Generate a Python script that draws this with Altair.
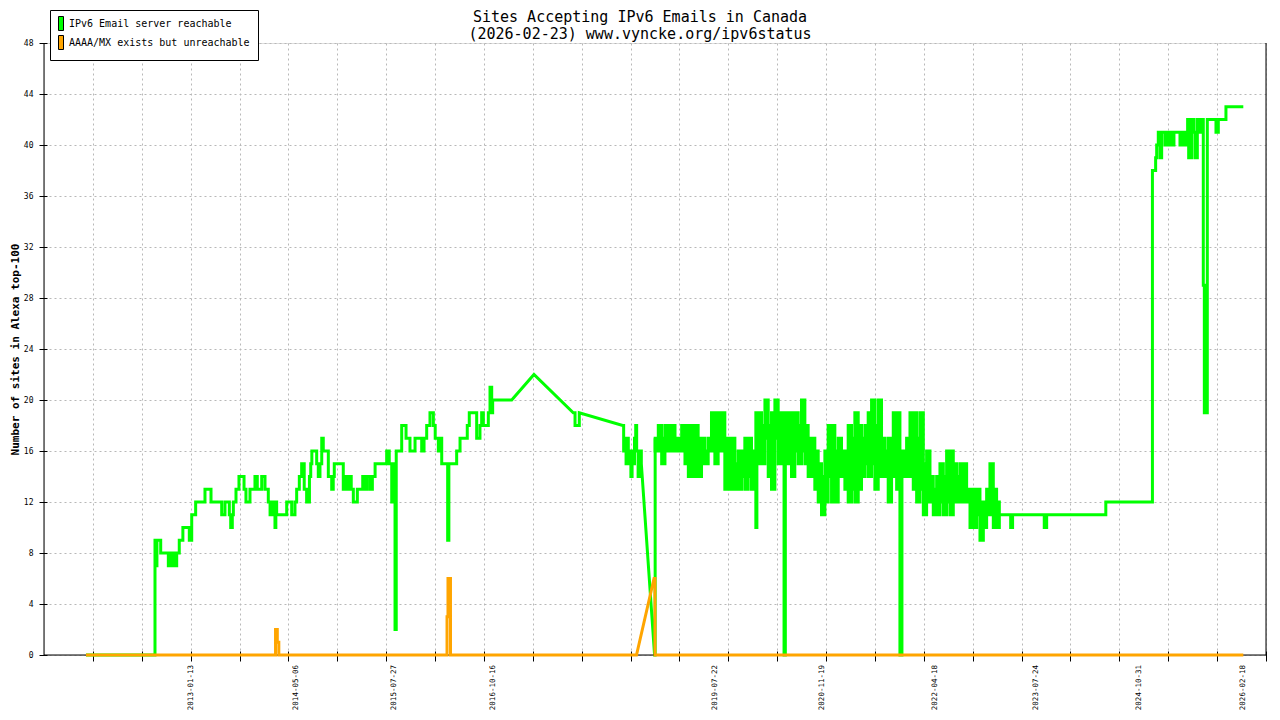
import altair as alt
import pandas as pd

MONO = "DejaVu Sans Mono"

TITLE = ["Sites Accepting IPv6 Emails in Canada", "(2026-02-23) www.vyncke.org/ipv6status"]
Y_TITLE = "Number of sites in Alexa top-100"
SERIES = ["IPv6 Email server reachable", "AAAA/MX exists but unreachable"]
GREEN, ORANGE = "#00ff00", "#ffa500"

# x positions are decimal years
X_DOMAIN = [2011.2068, 2026.4134]
X_LABELS = ["2013-01-13", "2014-05-06", "2015-07-27", "2016-10-16", "2019-07-22",
            "2020-11-19", "2022-04-18", "2023-07-24", "2024-10-31", "2026-02-18"]

# green series, part 1: vertices (year, value); a value holds until the next vertex
# except after the years listed in G_SLOPED (straight segment to the next vertex)
G1_YEAR = [
    2011.729, 2012.588, 2012.603, 2012.612, 2012.659, 2012.754, 2012.783, 2012.808, 2012.840, 2012.848,
    2012.858, 2012.890, 2012.935, 2013.015, 2013.045, 2013.094, 2013.210, 2013.285, 2013.418, 2013.459,
    2013.513, 2013.530, 2013.550, 2013.563, 2013.596, 2013.633, 2013.696, 2013.720, 2013.770, 2013.832,
    2013.861, 2013.916, 2013.957, 2013.998, 2014.020, 2014.040, 2014.060, 2014.081, 2014.092, 2014.102,
    2014.227, 2014.289, 2014.330, 2014.351, 2014.384, 2014.413, 2014.425, 2014.434, 2014.445, 2014.475,
    2014.510, 2014.526, 2014.540, 2014.600, 2014.620, 2014.641, 2014.663, 2014.682, 2014.745, 2014.787,
    2014.806, 2014.819, 2014.931, 2014.960, 2014.980, 2015.006, 2015.030, 2015.056, 2015.106, 2015.173,
    2015.200, 2015.222, 2015.260, 2015.293, 2015.327, 2015.471, 2015.503, 2015.534, 2015.562, 2015.575,
    2015.590, 2015.658, 2015.712, 2015.761, 2015.824, 2015.907, 2015.936, 2015.969, 2016.010, 2016.052,
    2016.075, 2016.114, 2016.135, 2016.156, 2016.230, 2016.245, 2016.342, 2016.384, 2016.474, 2016.499,
    2016.591, 2016.632, 2016.653, 2016.674, 2016.736, 2016.757, 2016.778, 2016.790, 2017.027, 2017.304,
    2017.793, 2017.815, 2017.868, 2018.408, 2018.420, 2018.435, 2018.450, 2018.465, 2018.478, 2018.495,
    2018.510, 2018.525, 2018.540, 2018.555, 2018.570, 2018.582, 2018.600, 2018.620, 2018.640, 2018.805,
    2018.812,
]
G1_VAL = [
    0, 9, 7, 9, 8, 7, 8, 7, 8, 7,
    8, 9, 10, 9, 11, 12, 13, 12, 11, 12,
    11, 10, 11, 12, 13, 14, 13, 12, 13, 14,
    13, 14, 13, 12, 11, 12, 11, 10, 12, 11,
    12, 11, 12, 13, 14, 15, 14, 15, 13, 12,
    14, 15, 16, 15, 14, 15, 17, 16, 14, 13,
    14, 15, 13, 14, 13, 14, 13, 12, 13, 14,
    13, 14, 13, 14, 15, 16, 15, 12, 15, 2,
    16, 18, 17, 16, 17, 16, 17, 18, 19, 18,
    17, 16, 17, 15, 9, 15, 16, 17, 18, 19,
    17, 18, 19, 18, 19, 21, 19, 20, 20, 22,
    19, 18, 19, 18, 16, 17, 15, 17, 16, 15,
    14, 16, 15, 17, 18, 16, 14, 16, 15, 0,
    17,
]
G_SLOPED = [2017.027, 2017.304, 2017.868, 2018.640]

# green series, dense daily noise 2018-2023: per-column low / high values
B_YEAR = [
    2018.812, 2018.851, 2018.893, 2018.934, 2018.976, 2019.017, 2019.059, 2019.100, 2019.142, 2019.183,
    2019.225, 2019.266, 2019.306, 2019.347, 2019.389, 2019.430, 2019.472, 2019.513, 2019.555, 2019.596,
    2019.638, 2019.679, 2019.721, 2019.762, 2019.804, 2019.845, 2019.887, 2019.928, 2019.970, 2020.011,
    2020.053, 2020.065, 2020.078, 2020.095, 2020.136, 2020.178, 2020.219, 2020.260, 2020.302, 2020.343,
    2020.385, 2020.416, 2020.432, 2020.468, 2020.509, 2020.550, 2020.592, 2020.633, 2020.675, 2020.716,
    2020.758, 2020.799, 2020.841, 2020.882, 2020.924, 2020.965, 2021.007, 2021.048, 2021.090, 2021.131,
    2021.173, 2021.214, 2021.256, 2021.297, 2021.339, 2021.380, 2021.422, 2021.463, 2021.505, 2021.546,
    2021.588, 2021.629, 2021.671, 2021.712, 2021.754, 2021.775, 2021.817, 2021.858, 2021.883, 2021.900,
    2021.941, 2021.983, 2022.024, 2022.066, 2022.107, 2022.149, 2022.190, 2022.232, 2022.273, 2022.315,
    2022.356, 2022.398, 2022.439, 2022.481, 2022.522, 2022.564, 2022.605, 2022.647, 2022.688, 2022.730,
    2022.771, 2022.813, 2022.854, 2022.896, 2022.937, 2022.978, 2023.020, 2023.061, 2023.095,
]
B_LO = [
    16, 16, 15, 16, 16, 16, 16, 16, 16, 15,
    14, 14, 14, 14, 15, 15, 16, 16, 15, 16,
    16, 13, 13, 13, 13, 13, 14, 13, 14, 13,
    13, 10, 15, 15, 15, 17, 14, 13, 17, 15,
    15, 0, 15, 15, 14, 16, 15, 16, 15, 14,
    14, 13, 12, 11, 12, 14, 12, 12, 14, 14,
    13, 12, 13, 12, 13, 14, 15, 14, 15, 13,
    14, 14, 14, 12, 14, 14, 13, 0, 14, 14,
    14, 14, 13, 12, 13, 11, 12, 12, 11, 11,
    12, 11, 12, 11, 12, 12, 12, 12, 12, 10,
    10, 11, 9, 10, 11, 11, 10, 10, 11,
]
B_HI = [
    17, 18, 17, 18, 18, 18, 17, 17, 18, 18,
    18, 18, 18, 17, 17, 16, 17, 19, 19, 19,
    19, 17, 17, 17, 15, 16, 16, 17, 17, 16,
    16, 19, 19, 19, 18, 20, 18, 19, 20, 19,
    19, 19, 19, 19, 19, 19, 18, 20, 18, 17,
    17, 16, 15, 14, 16, 18, 18, 16, 17, 16,
    16, 18, 17, 19, 18, 17, 18, 19, 20, 18,
    20, 17, 16, 17, 17, 19, 19, 16, 16, 16,
    17, 19, 19, 17, 19, 15, 16, 14, 13, 14,
    15, 14, 16, 16, 15, 14, 15, 15, 13, 13,
    13, 13, 12, 12, 13, 15, 13, 12, 11,
]

# green series, part 2
G2_YEAR = [
    2023.095, 2023.236, 2023.260, 2023.654, 2023.684, 2024.420, 2025.000, 2025.040, 2025.053, 2025.073,
    2025.094, 2025.115, 2025.156, 2025.177, 2025.198, 2025.219, 2025.239, 2025.268, 2025.343, 2025.376,
    2025.405, 2025.438, 2025.451, 2025.488, 2025.517, 2025.530, 2025.559, 2025.592, 2025.613, 2025.633,
    2025.646, 2025.683, 2025.791, 2025.820, 2025.915, 2026.131,
]
G2_VAL = [
    11, 10, 11, 10, 11, 12, 38, 39, 40, 41,
    39, 41, 40, 41, 40, 41, 40, 41, 40, 41,
    40, 42, 39, 42, 41, 39, 42, 41, 42, 29,
    19, 42, 41, 42, 43, 43,
]

O_YEAR = [2011.729, 2014.088, 2014.110, 2014.129, 2016.222, 2016.234, 2016.265,
          2018.580, 2018.798, 2018.810, 2026.131]
O_VAL = [0, 2, 1, 0, 3, 6, 0, 0, 6, 0, 0]
O_SLOPED = [2018.580]


def vertices(years, vals, sloped, seg):
    rows = []
    n = len(years)
    for i in range(n):
        rows.append((years[i], vals[i]))
        if i + 1 < n and years[i] not in sloped:
            rows.append((years[i + 1], vals[i]))
    return pd.DataFrame({"year": [r[0] for r in rows], "value": [r[1] for r in rows],
                         "seg": seg, "idx": range(len(rows))})


green = pd.concat([vertices(G1_YEAR, G1_VAL, G_SLOPED, 0),
                   vertices(G2_YEAR, G2_VAL, [], 1)], ignore_index=True)
orange = vertices(O_YEAR, O_VAL, O_SLOPED, 0)
band = pd.DataFrame({"year": B_YEAR, "lo": B_LO, "hi": B_HI})


def to_year(d):
    return 2013 + (pd.Timestamp(d) - pd.Timestamp("2013-01-01")).days / 365.25


lab = pd.DataFrame({"label": X_LABELS, "year": [to_year(d) for d in X_LABELS]})

W, H = 1222, 612
step = (X_DOMAIN[1] - X_DOMAIN[0]) / 25
x_ticks = [X_DOMAIN[0] + k * step for k in range(1, 26)]

xscale = alt.Scale(domain=X_DOMAIN, nice=False, zero=False)
yscale = alt.Scale(domain=[0, 48], nice=False)
xaxis = alt.Axis(values=x_ticks, labels=False, title=None, domain=False, offset=-4,
                 tickSize=10, tickColor="black", tickWidth=1,
                 grid=True, gridColor="#b8b8b8", gridDash=[2, 3], gridWidth=1)
yaxis = alt.Axis(values=list(range(0, 49, 4)), format="d", domain=False, offset=-3,
                 tickSize=8, tickColor="black", labelFont=MONO, labelFontSize=8,
                 labelColor="black", labelPadding=6,
                 grid=True, gridColor="#b8b8b8", gridDash=[2, 3], gridWidth=1,
                 title=Y_TITLE, titleFont=MONO, titleFontSize=11, titleFontWeight="bold",
                 titleColor="black", titleAngle=270, titleX=-32, titleY=H / 2,
                 titleAlign="center", titleBaseline="middle")

X = alt.X("year:Q", scale=xscale, axis=xaxis)

green_line = alt.Chart(green).mark_line(strokeWidth=3, color=GREEN).encode(
    x=X,
    y=alt.Y("value:Q", scale=yscale, axis=yaxis),
    detail="seg:N",
    order=alt.Order("idx:Q"),
)

green_band = alt.Chart(band).mark_area(interpolate="step-after", color=GREEN, stroke=GREEN,
                                       strokeWidth=3, opacity=1).encode(
    x=X,
    y=alt.Y("lo:Q", scale=yscale, axis=yaxis),
    y2="hi:Q",
)

orange_line = alt.Chart(orange).mark_line(strokeWidth=3, color=ORANGE).encode(
    x=X,
    y=alt.Y("value:Q", scale=yscale, axis=yaxis),
    order=alt.Order("idx:Q"),
)

legend_layer = alt.Chart(pd.DataFrame({"series": SERIES})).mark_point(
    filled=True, stroke="black", strokeWidth=1, opacity=1, clip=True
).encode(
    x=alt.value(-200), y=alt.value(-200),
    fill=alt.Fill("series:N", scale=alt.Scale(domain=SERIES, range=[GREEN, ORANGE]),
                  legend=alt.Legend(title=None, orient="none", legendX=6, legendY=-33,
                                    symbolType="M-1,-1.4H0V1.4H-1Z", symbolSize=100,
                                    symbolStrokeColor="black", symbolStrokeWidth=1,
                                    symbolOpacity=1,
                                    labelFont=MONO, labelFontSize=10, labelColor="black",
                                    labelLimit=0, labelOffset=0, padding=8, rowPadding=0,
                                    strokeColor="black", fillColor="white")),
)

labels = alt.Chart(lab).mark_text(angle=270, align="right", baseline="middle",
                                  font=MONO, fontSize=7.5, color="black").encode(
    x=X,
    y=alt.value(H + 10),
    text="label:N",
)

# chart title drawn as text (two lines), centred on the page
title = alt.Chart(pd.DataFrame({"t": ["\n".join(TITLE)]})).mark_text(
    font=MONO, fontSize=15, color="black", align="center", baseline="alphabetic",
    lineBreak="\n", lineHeight=16.5,
).encode(x=alt.value(596), y=alt.value(-21), text="t:N")

one = pd.DataFrame({"k": [0]})
left = alt.Chart(one).mark_rule(color="black", strokeWidth=1).encode(
    x=alt.value(0), y=alt.value(0), y2=alt.value(H))
bottom = alt.Chart(one).mark_rule(color="black", strokeWidth=1).encode(
    x=alt.value(0), x2=alt.value(W), y=alt.value(H))
right = alt.Chart(one).mark_rule(color="black", strokeWidth=1).encode(
    x=alt.value(W), y=alt.value(0), y2=alt.value(H))

chart = alt.layer(green_line, green_band, left, bottom, right, orange_line, labels,
                  title, legend_layer).properties(
    width=W, height=H,
    autosize=alt.AutoSizeParams(type="none"),
    padding={"left": 36, "top": 35, "right": 6, "bottom": 57},
).configure_view(stroke=None).configure(background="white")

chart.save("out.html", embed_options={"renderer": "svg", "actions": False})
